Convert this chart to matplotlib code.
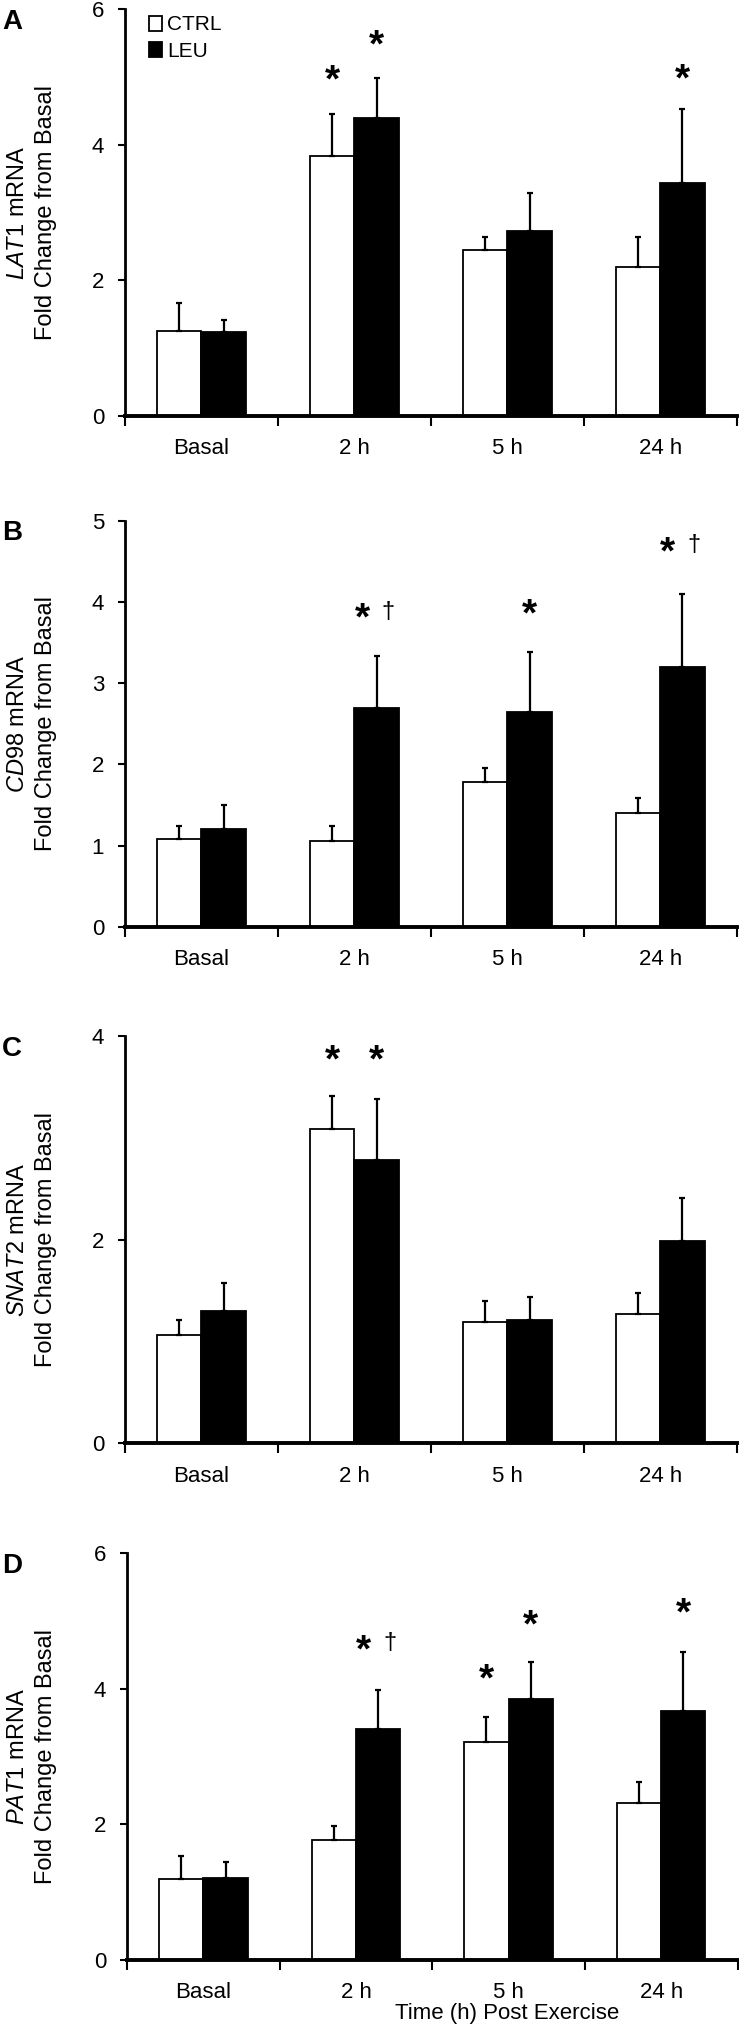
import matplotlib
matplotlib.use("Agg")
import matplotlib.pyplot as plt
from matplotlib.patches import Patch
import numpy as np

plt.rcParams['font.family'] = ['Liberation Sans', 'DejaVu Sans']
plt.rcParams['mathtext.fontset'] = 'custom'
plt.rcParams['mathtext.it'] = 'Liberation Sans:italic'
plt.rcParams['mathtext.rm'] = 'Liberation Sans'

groups = ["Basal", "2 h", "5 h", "24 h"]

# A - LAT1
lat1_ctrl = [1.25, 3.83, 2.45, 2.19]
lat1_ctrl_err = [0.41, 0.62, 0.19, 0.45]
lat1_leu = [1.24, 4.39, 2.73, 3.44]
lat1_leu_err = [0.18, 0.60, 0.56, 1.09]
lat1_marks = [(1, 0, 5.08, "*"), (1, 1, 5.60, "*"), (3, 1, 5.10, "*")]

# B - CD98
cd98_ctrl = [1.08, 1.06, 1.78, 1.40]
cd98_ctrl_err = [0.16, 0.18, 0.18, 0.19]
cd98_leu = [1.20, 2.69, 2.65, 3.20]
cd98_leu_err = [0.30, 0.64, 0.74, 0.90]
cd98_marks = [(1, 1, 3.90, "*†"), (2, 1, 3.95, "*"), (3, 1, 4.72, "*†")]

# C - SNAT2
snat2_ctrl = [1.06, 3.09, 1.19, 1.27]
snat2_ctrl_err = [0.15, 0.32, 0.21, 0.21]
snat2_leu = [1.30, 2.78, 1.21, 1.99]
snat2_leu_err = [0.27, 0.60, 0.23, 0.42]
snat2_marks = [(1, 0, 3.85, "*"), (1, 1, 3.85, "*")]

# D - PAT1
pat1_ctrl = [1.20, 1.77, 3.22, 2.31]
pat1_ctrl_err = [0.34, 0.20, 0.36, 0.32]
pat1_leu = [1.21, 3.41, 3.85, 3.67]
pat1_leu_err = [0.23, 0.58, 0.54, 0.88]
pat1_marks = [(1, 1, 4.70, "*†"), (2, 0, 4.27, "*"), (2, 1, 5.06, "*"), (3, 1, 5.24, "*")]

fig = plt.figure(figsize=(7.39, 20.36), dpi=100)

w = 0.29
x = np.arange(len(groups))


def star(ax, xc, y):
    # asterisk sits high in the glyph box, pull it down a bit
    ax.annotate("*", (xc, y), xytext=(0, -7), textcoords='offset points',
                ha='center', va='center', fontsize=28, fontweight='bold')


def panel(rect, letter, gene, ctrl, ctrl_err, leu, leu_err, marks, ymax, yticks):
    ax = fig.add_axes(rect)
    ekw = dict(elinewidth=1.6, capthick=1.6, ecolor='black')
    ax.bar(x - w / 2, ctrl, w, color='white', edgecolor='black', linewidth=1.3,
           yerr=[np.zeros(4), ctrl_err], capsize=2.5, error_kw=ekw, label='CTRL')
    ax.bar(x + w / 2, leu, w, color='black', edgecolor='black', linewidth=1.3,
           yerr=[np.zeros(4), leu_err], capsize=2.5, error_kw=ekw, label='LEU')
    ax.set_xlim(-0.5, 3.5)
    ax.set_ylim(0, ymax)
    ax.set_yticks(yticks)
    ax.set_xticks([-0.5, 0.5, 1.5, 2.5, 3.5])
    ax.set_xticklabels([])
    ax.set_xticks(x, minor=True)
    ax.set_xticklabels(groups, minor=True)
    ax.tick_params(axis='x', which='major', direction='out', length=7, width=1.5)
    ax.tick_params(axis='x', which='minor', length=0, pad=16, labelsize=16)
    ax.tick_params(axis='y', direction='out', length=5, width=1.5, pad=10, labelsize=16)
    ax.spines['top'].set_visible(False)
    ax.spines['right'].set_visible(False)
    ax.spines['left'].set_linewidth(2)
    ax.spines['bottom'].set_linewidth(2.8)

    bb = ax.get_position()
    fig.text(32 / 739, (bb.y0 + bb.y1) / 2,
             "$\\it{" + gene + "}$ mRNA\nFold Change from Basal",
             rotation=90, ha='center', va='center', multialignment='center',
             fontsize=17, linespacing=1.35)

    for g, s, y, txt in marks:
        xc = g + (w / 2 if s else -w / 2)
        if txt == "*":
            star(ax, xc, y)
        else:
            star(ax, xc - 0.095, y)
            ax.annotate("†", (xc + 0.075, y), xytext=(0, -1), textcoords='offset points',
                        ha='center', va='center', fontsize=17)

    fig.text(0.003, bb.y1 + 0.0002, letter, fontsize=20, fontweight='bold', va='top', ha='left')
    return ax


axA = panel([0.169, 0.7958, 0.828, 0.1996], "A", "LAT1", lat1_ctrl, lat1_ctrl_err,
            lat1_leu, lat1_leu_err, lat1_marks, 6, [0, 2, 4, 6])
axB = panel([0.169, 0.5448, 0.828, 0.1994], "B", "CD98", cd98_ctrl, cd98_ctrl_err,
            cd98_leu, cd98_leu_err, cd98_marks, 5, [0, 1, 2, 3, 4, 5])
axC = panel([0.169, 0.2911, 0.828, 0.2000], "C", "SNAT2", snat2_ctrl, snat2_ctrl_err,
            snat2_leu, snat2_leu_err, snat2_marks, 4, [0, 2, 4])
axD = panel([0.172, 0.0373, 0.826, 0.1998], "D", "PAT1", pat1_ctrl, pat1_ctrl_err,
            pat1_leu, pat1_leu_err, pat1_marks, 6, [0, 2, 4, 6])

handles = [Patch(facecolor='white', edgecolor='black', linewidth=1.3),
           Patch(facecolor='black', edgecolor='black', linewidth=1.3)]
axA.legend(handles, ['CTRL', 'LEU'], loc='upper left', bbox_to_anchor=(0.04, 0.985),
           frameon=False, fontsize=15, handlelength=0.6, handleheight=0.75,
           handletextpad=0.25, labelspacing=0.35, borderpad=0, borderaxespad=0)

fig.text(507 / 739, 1 - 2013 / 2036, "Time (h) Post Exercise", fontsize=16,
         ha='center', va='center')

fig.savefig("out.png", dpi=100)
